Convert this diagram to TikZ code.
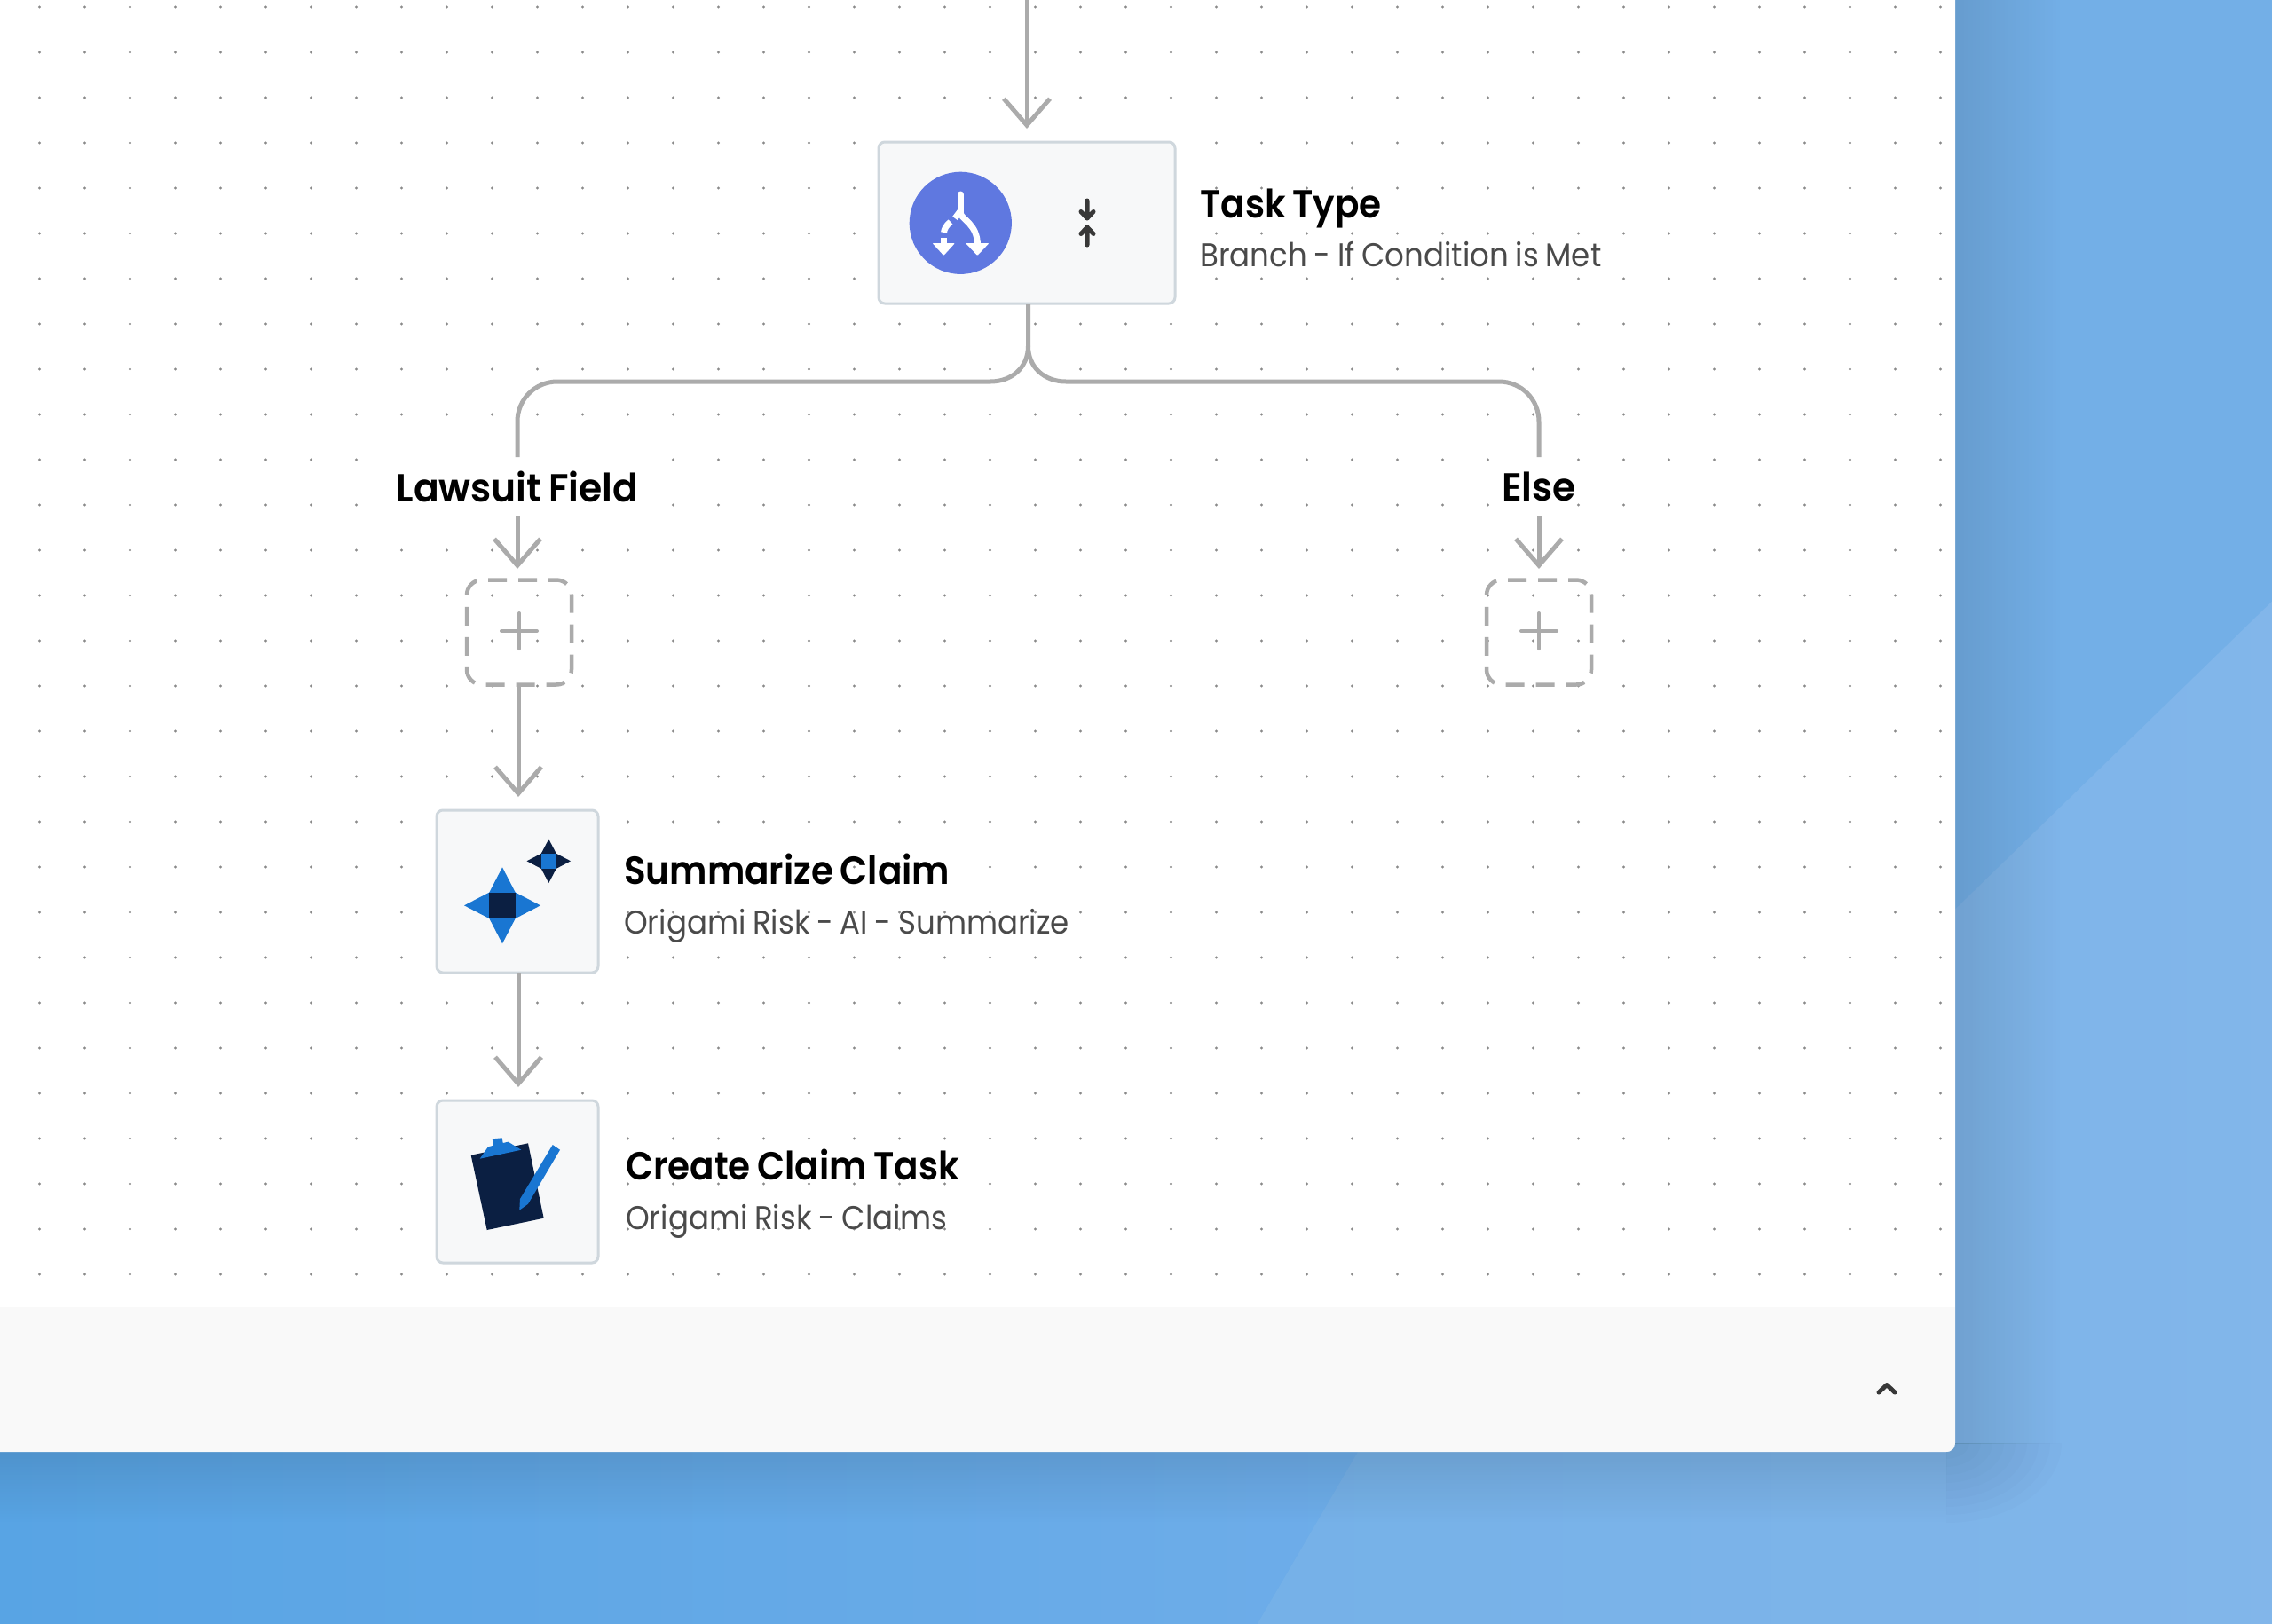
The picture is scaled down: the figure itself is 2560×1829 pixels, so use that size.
\documentclass[tikz,border=0pt]{standalone}
\usepackage{fontspec}
\setmainfont{Poppins}
\newfontfamily\titlefont[FakeStretch=0.92,WordSpace=0.8]{Poppins SemiBold}
\newfontfamily\labelfont[FakeStretch=0.965,WordSpace=0.8]{Poppins SemiBold}
\newfontfamily\subfont[FakeStretch=0.92,WordSpace=0.85]{Poppins}
\usetikzlibrary{arrows.meta,fadings}
\definecolor{linegray}{HTML}{ABABAB}
\definecolor{boxline}{HTML}{CFD7DD}
\definecolor{boxfill}{HTML}{F7F8F9}
\definecolor{indigo}{HTML}{5F78E0}
\definecolor{navy}{HTML}{0B1F42}
\definecolor{brand}{HTML}{1976D2}
\definecolor{subtext}{HTML}{4A4A4A}
\definecolor{footer}{HTML}{F9F9F9}
\definecolor{dotgray}{HTML}{8A8A8A}
\definecolor{skyA}{HTML}{58A4E4}
\definecolor{skyB}{HTML}{6EADE9}
\definecolor{skyC}{HTML}{75B1E8}
\definecolor{skyD}{HTML}{82B6EA}
\definecolor{skyE}{HTML}{73AFE7}
\tikzfading[name=fadeR,left color=transparent!0,right color=transparent!100]
\tikzfading[name=fadeD,top color=transparent!0,bottom color=transparent!100]
\tikzset{
  x=1pt,y=-1pt,
  cardbox/.style={draw=boxline,fill=boxfill,line width=3pt,rounded corners=7pt,outer sep=0pt,inner sep=0pt},
  addbox/.style={draw=linegray,line width=4.5pt,dash pattern=on 21pt off 13pt,dash phase=12pt,rounded corners=17pt,minimum width=118pt,minimum height=118pt,outer sep=0pt,inner sep=0pt},
  flow/.style={draw=linegray,line width=5pt,-{Straight Barb[length=30pt,width=52pt,line width=5pt]}},
  plainflow/.style={draw=linegray,line width=5pt},
  branchlabel/.style={fill=white,inner sep=0pt,outer sep=0pt,font=\fontsize{44}{50}\selectfont\labelfont,text=black,minimum height=66pt,anchor=center},
  titletext/.style={anchor=base west,inner sep=0pt,font=\fontsize{44}{50}\selectfont\titlefont,text=black},
  subtitletext/.style={anchor=base west,inner sep=0pt,font=\fontsize{37}{44}\selectfont\subfont,text=subtext},
  ictrl/.style={draw=white,line width=7pt,line cap=round},
  darkarrow/.style={draw=black!78,line width=5pt,line cap=round,line join=round},
}
\begin{document}
\begin{tikzpicture}
\useasboundingbox (0,0) rectangle (2560,1829);
% backdrop
\shade[left color=skyA,right color=skyB] (0,1600) rectangle (1560,1845);
\shade[left color=skyC,right color=skyD] (1551,1600) -- (2190,1600) -- (2190,600) -- (2580,600) -- (2580,1845) -- (1408,1845) -- cycle;
\fill[skyE] (2190,-20) -- (2580,-20) -- (2580,658) -- (2190,1037) -- cycle;
% shadow
\begin{scope}
\clip (2193,-20) rectangle (2340,1626);
\fill[black,path fading=fadeR,opacity=.115] (2193,-100) rectangle (2323,1800);
\end{scope}
\begin{scope}
\clip (-20,1626) rectangle (2193,1730);
\fill[black,path fading=fadeD,opacity=.115] (-100,1626) rectangle (2500,1716);
\end{scope}
\begin{scope}
\clip (2193,1626) rectangle (2340,1730);
\foreach \k in {1,...,10}{
  \fill[black,opacity=.0115] (2193,1626) ellipse ({13*\k} and {9*\k});
}
\end{scope}
% panel
\fill[white,rounded corners=10pt] (-30,-30) rectangle (2203,1636);
\begin{scope}
\clip[rounded corners=10pt] (-30,-30) rectangle (2203,1636);
\fill[footer] (-30,1473) rectangle (2203,1636);
\end{scope}
% dot grid
\foreach \i in {0,...,42}{\foreach \j in {0,...,28}{
  \fill[dotgray] ({44.5+51*\i},{1436-51*\j}) circle (1.6pt);
}}
% nodes
\node[cardbox,minimum width=334pt,minimum height=182pt] (task) at (1157,251) {};
\node[cardbox,minimum width=182pt,minimum height=183pt] (summ) at (583,1004.5) {};
\node[cardbox,minimum width=182pt,minimum height=183pt] (claim) at (583,1331.5) {};
\node[branchlabel] (lawsuit) at (583,548) {Lawsuit Field};
\node[branchlabel] (else) at (1734,548) {Else};
\node[addbox] (addl) at (585,712.5) {};
\node[addbox] (addr) at (1734,712.5) {};
\coordinate (entry) at (1157,-10);
% connectors
\draw[flow,shorten >=15pt] (entry) -- (task.north);
\draw[plainflow] ([xshift=1.5pt]task.south) -- (1158.5,390) .. controls (1158.5,414) and (1140,430) .. (1116,430) -- (628,430) .. controls (603,430) and (583,450) .. (583,475) -- (lawsuit.north);
\draw[plainflow] (1158.5,390) .. controls (1158.5,414) and (1177,430) .. (1201,430) -- (1689,430) .. controls (1714,430) and (1734,450) .. (1734,475) -- (else.north);
\draw[flow] (lawsuit.south) -- (583,641);
\draw[flow] (else.south) -- (1734,641);
\draw[flow] ([xshift=-1pt]addl.south) -- (584,898);
\draw[flow,shorten >=15pt] ([xshift=1pt]summ.south) -- ([xshift=1pt]claim.north);
% plus marks
\draw[draw=linegray,line width=4pt,line cap=round] (565,711) -- (605,711) (585,691) -- (585,731);
\draw[draw=linegray,line width=4pt,line cap=round] (1714,711) -- (1754,711) (1734,691) -- (1734,731);
% branch icon
\fill[indigo] (1082.3,251.3) circle (57.6pt);
\draw[ictrl] (1082,219) -- (1082,240);
\draw[draw=white,line width=7pt] (1082,240) .. controls (1084,248) and (1101,252) .. (1101.5,276);
\fill[white,rounded corners=1pt] (1088,274) -- (1114.5,274) -- (1101.3,288) -- cycle;
\draw[draw=white,line width=7pt] (1082,238) -- (1076,246);
\draw[draw=white,line width=7pt] (1071,250) .. controls (1066,254) and (1064,258) .. (1063.5,262);
\draw[draw=white,line width=7pt] (1063.3,268) -- (1063.3,276);
\fill[white,rounded corners=1pt] (1050.5,274) -- (1076,274) -- (1063.3,288) -- cycle;
% collapse arrows
\draw[darkarrow] (1225,226) -- (1225,246) (1218,238.5) -- (1225,246) -- (1232,238.5);
\draw[darkarrow] (1225,276) -- (1225,256) (1218,263.5) -- (1225,256) -- (1232,263.5);
% sparkle icon
\fill[brand] (566,977.3) -- (580.7,1005.6) -- (609,1020.3) -- (580.7,1035) -- (566,1063.3) -- (551.3,1035) -- (523,1020.3) -- (551.3,1005.6) -- cycle;
\fill[navy] (551.3,1005.6) rectangle (580.7,1035);
\fill[navy] (618.3,945.6) -- (626.8,961.8) -- (643,970.3) -- (626.8,978.8) -- (618.3,995) -- (609.8,978.8) -- (593.6,970.3) -- (609.8,961.8) -- cycle;
\fill[brand] (609.8,961.8) rectangle (626.8,978.8);
% clipboard icon
\fill[navy] (530.7,1301.7) -- (595,1288.3) -- (612.7,1372.7) -- (548.7,1386) -- cycle;
\fill[brand] (540.7,1305.7) -- (587.3,1295.7) -- (572.7,1286.7) -- (566.7,1288) -- (565.7,1282.3) -- (554.7,1283.3) -- (556,1290.7) -- (550,1292.3) -- cycle;
\fill[brand] (622.7,1290) -- (631,1295.7) -- (595,1356.7) -- (585.3,1363.7) -- (586,1351) -- cycle;
% texts
\node[titletext] (t1) at (1352,245) {Task Type};
\node[subtitletext] (s1) at (1352,300) {Branch - If Condition is Met};
\node[titletext] (t2) at (703,996) {Summarize Claim};
\node[subtitletext] (s2) at (703,1052) {Origami Risk - AI - Summarize};
\node[titletext] (t3) at (705,1329) {Create Claim Task};
\node[subtitletext] (s3) at (705,1385) {Origami Risk - Claims};
% chevron
\draw[draw=black!78,line width=5pt,line cap=round,line join=round] (2117,1569) -- (2126,1560.5) -- (2135,1569);
\end{tikzpicture}
\end{document}
